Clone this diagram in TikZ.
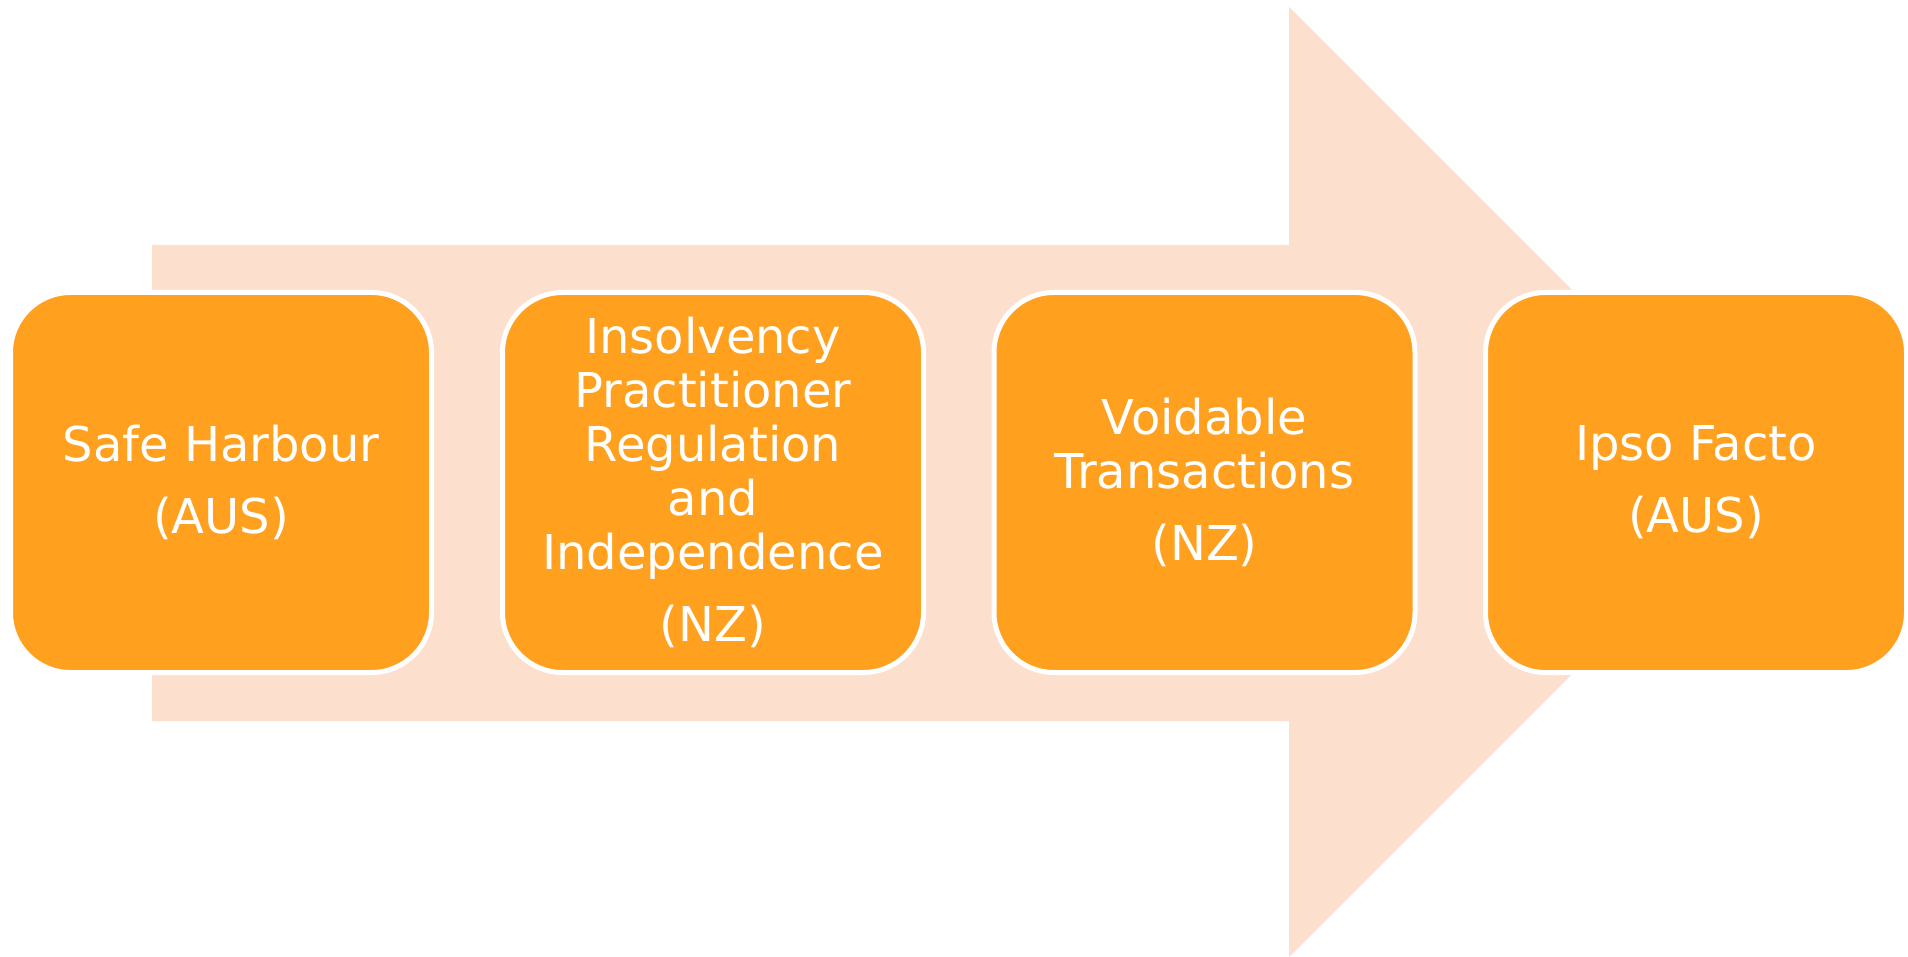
\documentclass[tikz,border=0pt]{standalone}
\usepackage{fontspec}
\newfontfamily\boxfont{DejaVu Sans}
\definecolor{peach}{HTML}{FDDFCD}
\definecolor{boxorange}{HTML}{FFA01E}
\tikzset{
  stagebox/.style={rectangle, rounded corners=30pt, fill=boxorange, draw=white,
    line width=2.5pt, minimum width=210.5pt, minimum height=190pt,
    text=white, align=center, inner sep=0pt,
    font=\boxfont\fontsize{24pt}{27pt}\selectfont},
  bigarrow/.style={fill=peach, draw=none}
}
\begin{document}
\begin{tikzpicture}[x=0.5pt,y=-0.5pt]
  \fill[white] (0,0) rectangle (1908,957);
  \useasboundingbox (0,0) rectangle (1908,957);
  \fill[bigarrow] (152,245) -- (1289,245) -- (1289,7) -- (1764,482)
    -- (1289,957) -- (1289,721) -- (152,721) -- cycle;
  \node[stagebox] (b1) at (221,482.5) {Safe Harbour\\[9pt](AUS)};
  \node[stagebox] (b2) at (713,482.5) {Insolvency\\Practitioner\\Regulation\\and\\Independence\\[9pt](NZ)};
  \node[stagebox] (b3) at (1204.5,482.5) {Voidable\\Transactions\\[9pt](NZ)};
  \node[stagebox] (b4) at (1696,482.5) {Ipso Facto\\[9pt](AUS)};
\end{tikzpicture}
\end{document}
